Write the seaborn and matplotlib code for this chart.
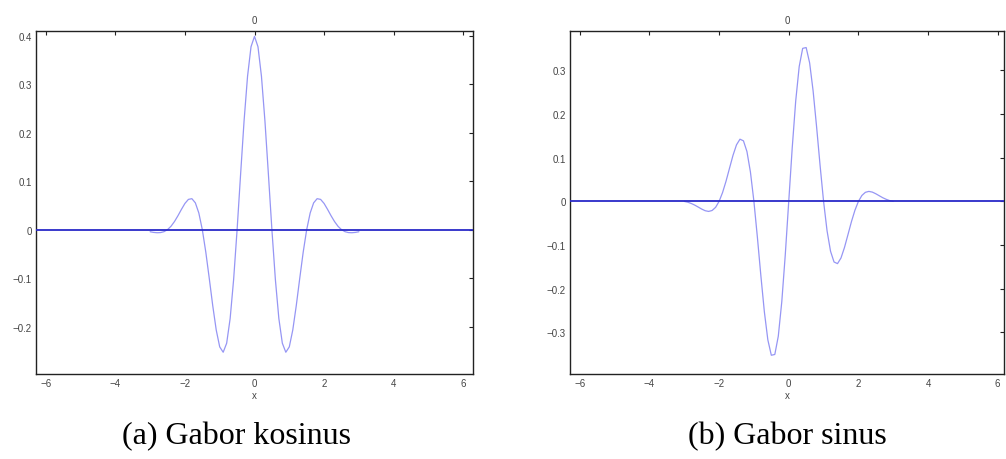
import numpy as np
import pandas as pd
import seaborn as sns
import matplotlib
matplotlib.use("Agg")
import matplotlib.pyplot as plt

# ---- data (x step 0.1 from -3.0 to 3.0) ----
x_vals = [round(-3.0 + 0.1 * i, 1) for i in range(61)]

cos_pos = [0.3989, 0.3775, 0.3164, 0.2242, 0.1138, 0.0, -0.1030, -0.1835, -0.2344, -0.2531,
           -0.2420, -0.2072, -0.1571, -0.1007, -0.0463, 0.0, 0.0343, 0.0553, 0.0639, 0.0624,
           0.0540, 0.0418, 0.0287, 0.0167, 0.0069, 0.0, -0.0042, -0.0061, -0.0064, -0.0057,
           -0.0044]
sin_pos = [0.0, 0.1227, 0.2299, 0.3085, 0.3503, 0.3521, 0.3169, 0.2526, 0.1703, 0.0822,
           0.0, -0.0673, -0.1141, -0.1386, -0.1424, -0.1295, -0.1055, -0.0761, -0.0464, -0.0203,
           0.0, 0.0136, 0.0208, 0.0229, 0.0213, 0.0175, 0.0129, 0.0084, 0.0047, 0.0018,
           0.0]

gabor_cos = cos_pos[:0:-1] + cos_pos
gabor_sin = [-v for v in sin_pos[:0:-1]] + sin_pos

x_ticks = [-6, -4, -2, 0, 2, 4, 6]
x_tick_labels = ["\u22126", "\u22124", "\u22122", "0", "2", "4", "6"]
y_ticks_a = [-0.2, -0.1, 0, 0.1, 0.2, 0.3, 0.4]
y_labels_a = ["\u22120.2", "\u22120.1", "0", "0.1", "0.2", "0.3", "0.4"]
y_ticks_b = [-0.3, -0.2, -0.1, 0, 0.1, 0.2, 0.3]
y_labels_b = ["\u22120.3", "\u22120.2", "\u22120.1", "0", "0.1", "0.2", "0.3"]
captions = ["(a) Gabor kosinus", "(b) Gabor sinus"]
panel_title = "0"

sns.set_style("white")
plt.rcParams["font.family"] = ["Liberation Sans", "DejaVu Sans"]

fig = plt.figure(figsize=(10.06, 4.60), dpi=100)
ax_a = fig.add_axes([36 / 1006, 1 - 375 / 460, 437 / 1006, 343 / 460])
ax_b = fig.add_axes([570 / 1006, 1 - 375 / 460, 434 / 1006, 343 / 460])

df = pd.DataFrame({"x": x_vals, "cos": gabor_cos, "sin": gabor_sin})

curve_color = "#9696f4"
zero_color = "#2a2ac8"
text_color = "#444444"

panels = [
    (ax_a, "cos", (-6.28, 6.28), (-0.298, 0.41), y_ticks_a, y_labels_a),
    (ax_b, "sin", (-6.28, 6.18), (-0.395, 0.39), y_ticks_b, y_labels_b),
]

for ax, col, xl, yl, yt, ytl in panels:
    sns.lineplot(data=df, x="x", y=col, ax=ax, color=curve_color, linewidth=0.9, zorder=2)
    ax.axhline(0, color=zero_color, linewidth=1.3, zorder=3)
    ax.set_xlim(*xl)
    ax.set_ylim(*yl)
    ax.set_xticks(x_ticks)
    ax.set_xticklabels(x_tick_labels)
    ax.set_yticks(yt)
    ax.set_yticklabels(ytl)
    ax.tick_params(direction="in", top=True, right=True, length=3, width=0.8,
                   labelsize=7, colors="#222222", labelcolor=text_color, pad=3)
    for s in ax.spines.values():
        s.set_visible(True)
        s.set_color("#222222")
        s.set_linewidth(1.0)
    ax.set_xlabel("x", fontsize=7, color=text_color, labelpad=1)
    ax.set_ylabel("")
    ax.set_title(panel_title, fontsize=7, color=text_color, pad=6)

fig.text(237 / 1006, 1 - 437 / 460, captions[0], ha="center", va="center",
         fontsize=23, family=["Liberation Serif", "DejaVu Serif"], color="black")
fig.text(787 / 1006, 1 - 437 / 460, captions[1], ha="center", va="center",
         fontsize=23, family=["Liberation Serif", "DejaVu Serif"], color="black")

fig.savefig("out.png", dpi=100)
